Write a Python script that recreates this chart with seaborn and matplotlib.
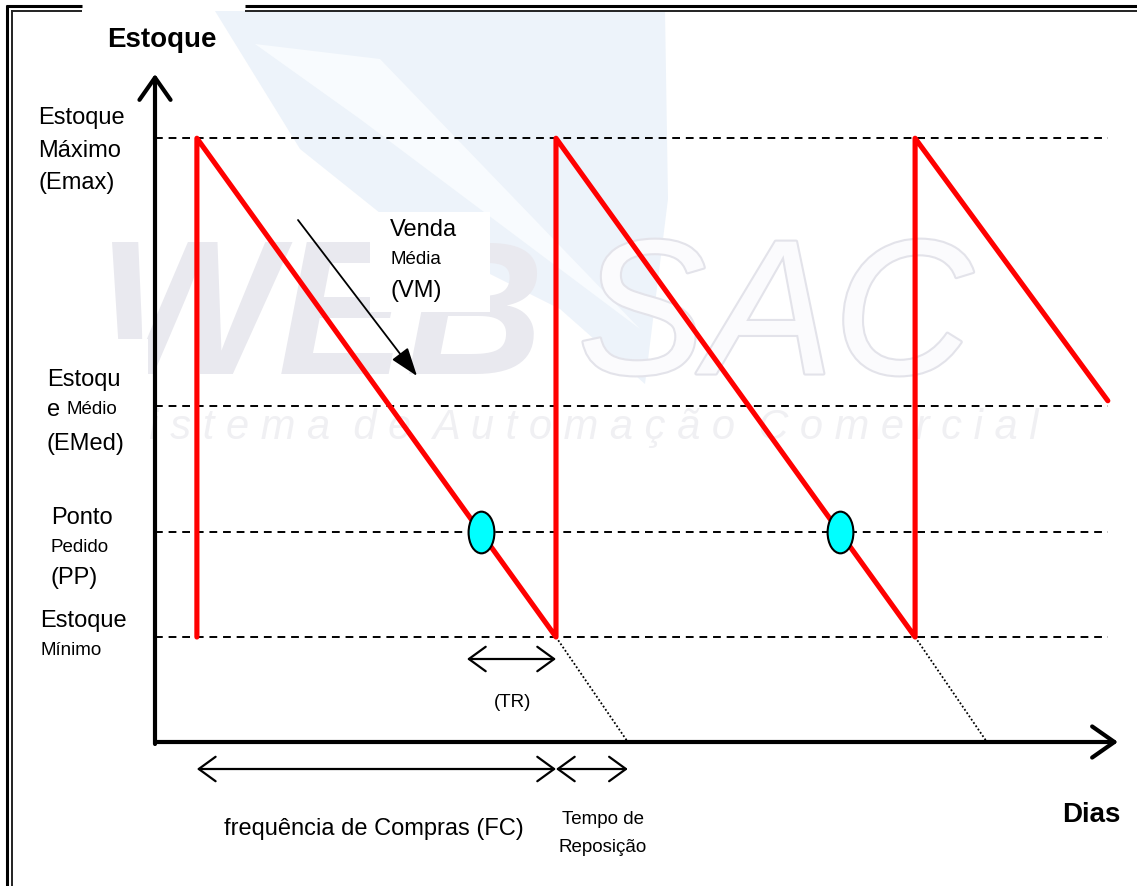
import numpy as np
import pandas as pd
import matplotlib
matplotlib.use("Agg")
import matplotlib.pyplot as plt
import seaborn as sns
from matplotlib.path import Path
from matplotlib.lines import Line2D
from matplotlib.patches import Rectangle, Polygon
import matplotlib.patheffects as pe

# ---------------- data ----------------
level_names = ["Emax", "EMed", "PP", "Emin"]
level_values = [115, 64, 40, 20]           # stock levels (units)
saw_days = [3.5, 3.5, 33.5, 33.5, 63.5, 63.5, 79.6]
saw_stock = [20, 115, 20, 115, 20, 115, 65]
reorder_days = [27.2, 57.2]                 # order point reached (PP)
restock_days = [33.5, 63.5]                 # stock at minimum, replenished
zero_days = [39.5, 69.5]                    # dotted projection reaches zero
first_restock = 3.5
level_end_day = 79.6

# ---------------- layout (pixel geometry of the canvas) ----------------
W, H = 1137, 887
X0, Y0 = 155, 743          # pixel of origin
PXD, PXS = 11.97, 5.25     # pixels per day / per stock unit

def dx(px):
    return (px - X0) / PXD

def dy(py):
    return (Y0 - py) / PXS

def fx(px, py):
    return px / W, 1 - py / H

sns.set_theme(style="white")
plt.rcParams['font.family'] = ['Liberation Sans', 'DejaVu Sans']

fig = plt.figure(figsize=(W / 100, H / 100), dpi=100)
fig.patch.set_facecolor("white")
ax = fig.add_axes([0, 0, 1, 1])
ax.set_xlim(dx(0), dx(W))
ax.set_ylim(dy(H), dy(0))
ax.axis("off")

# ---------------- faint watermark (background logo) ----------------
ax.add_patch(Polygon([(dx(215), dy(12)), (dx(665), dy(12)), (dx(668), dy(200)),
                      (dx(645), dy(385)), (dx(560), dy(310)), (dx(400), dy(230)),
                      (dx(300), dy(150))],
                     closed=True, facecolor="#edf3fa", edgecolor="none", zorder=0))
ax.add_patch(Polygon([(dx(255), dy(45)), (dx(380), dy(60)), (dx(640), dy(330)),
                      (dx(360), dy(120))],
                     closed=True, facecolor="#f8fbfe", edgecolor="none", zorder=0.1))
ax.text(*fx(98, 325), "WEB", transform=fig.transFigure, fontsize=138,
        fontweight="bold", fontstyle="italic", color="#e9e9ef",
        ha="left", va="center", zorder=0.2)
ax.text(*fx(578, 325), "SAC", transform=fig.transFigure, fontsize=138,
        fontstyle="italic", color="#fbfbfd", ha="left", va="center", zorder=0.2,
        path_effects=[pe.withStroke(linewidth=3, foreground="#e3e3ea")])
ax.text(*fx(110, 428), "S i s t e m a  d e  A u t o m a ç ã o  C o m e r c i a l",
        transform=fig.transFigure, fontsize=30, fontstyle="italic",
        color="#f0f0f3", ha="left", va="center", zorder=0.2)

# white boxes behind some labels
ax.add_patch(Rectangle((dx(370), dy(313)), 120 / PXD, 100 / PXS,
                       facecolor="white", edgecolor="none", zorder=0.5))
ax.add_patch(Rectangle((dx(15), dy(470)), 133 / PXD, 130 / PXS,
                       facecolor="white", edgecolor="none", zorder=0.5))

# ---------------- level dashed lines ----------------
for v in level_values:
    ax.plot([0, level_end_day], [v, v], color="black", lw=1.4,
            linestyle=(0, (4, 3)), zorder=2)

# ---------------- sawtooth ----------------
saw = pd.DataFrame({"dia": saw_days, "estoque": saw_stock})
sns.lineplot(data=saw, x="dia", y="estoque", estimator=None, sort=False,
             color="#ff0000", lw=3.7, ax=ax, zorder=3)

# dotted projections to zero
for r, z in zip(restock_days, zero_days):
    ax.plot([r, z], [level_values[-1], 0], color="black", lw=1.3,
            linestyle=(0, (1, 1.2)), zorder=2)

# order point ellipses
circ = Path.unit_circle()
ell_marker = Path(circ.vertices * np.array([0.62, 1.0]), circ.codes)
pts = pd.DataFrame({"dia": reorder_days, "estoque": [level_values[2]] * 2})
sns.scatterplot(data=pts, x="dia", y="estoque", marker=ell_marker, s=900,
                color="#00ffff", edgecolor="black", linewidth=1.5, ax=ax, zorder=4)

# ---------------- axes arrows ----------------
ax.annotate("", xy=(0, dy(75)), xytext=(0, dy(745)),
            arrowprops=dict(arrowstyle="->,head_length=0.4,head_width=0.28",
                            lw=3, color="black", mutation_scale=40,
                            shrinkA=0, shrinkB=0), zorder=5)
ax.annotate("", xy=(dx(1118), 0), xytext=(0, 0),
            arrowprops=dict(arrowstyle="->,head_length=0.4,head_width=0.28",
                            lw=3, color="black", mutation_scale=40,
                            shrinkA=0, shrinkB=0), zorder=5)

# ---------------- double arrows ----------------
dbl = dict(arrowstyle="<->,head_length=0.55,head_width=0.4", lw=1.6,
           color="black", mutation_scale=22, shrinkA=0, shrinkB=0)
ax.annotate("", xy=(restock_days[0], dy(660)), xytext=(dx(467), dy(660)),
            arrowprops=dbl, zorder=5)
ax.annotate("", xy=(restock_days[0], dy(770)), xytext=(first_restock, dy(770)),
            arrowprops=dbl, zorder=5)
ax.annotate("", xy=(zero_days[0], dy(770)), xytext=(restock_days[0], dy(770)),
            arrowprops=dbl, zorder=5)

# Venda media arrow
ax.annotate("", xy=(dx(417), dy(377)), xytext=(dx(298), dy(221)),
            arrowprops=dict(arrowstyle="-|>,head_length=0.8,head_width=0.28",
                            lw=1.3, color="black", mutation_scale=22,
                            shrinkA=0, shrinkB=0), zorder=5)

# ---------------- texts ----------------
BIG, SMALL = 17, 13.5
def t(px, py, s, size=BIG, ha="left", weight="normal"):
    fig.text(*fx(px, py), s, fontsize=size, ha=ha, va="center",
             fontweight=weight, color="black", zorder=6)

t(107, 40, "Estoque", size=20, weight="bold")
t(1121, 815, "Dias", size=20, ha="right", weight="bold")

t(38, 118, "Estoque")
t(38, 151, "Máximo")
t(38, 183, "(Emax)")

t(47, 380, "Estoqu")
t(47, 410, "e")
t(66, 410, "Médio", size=SMALL)
t(47, 444, "(EMed)")

t(51, 518, "Ponto")
t(51, 547, "Pedido", size=SMALL)
t(51, 578, "(PP)")

t(40, 621, "Estoque")
t(40, 651, "Mínimo", size=SMALL)

t(390, 230, "Venda")
t(390, 260, "Média", size=SMALL)
t(390, 291, "(VM)")

t(513, 703, "(TR)", size=SMALL, ha="center")
t(374, 829, "frequência de Compras (FC)", ha="center")
t(603, 820, "Tempo de", size=SMALL, ha="center")
t(603, 848, "Reposição", size=SMALL, ha="center")

# ---------------- double frame border ----------------
def fl(xs, ys, lw, color="black"):
    fig.add_artist(Line2D([x / W for x in xs], [1 - y / H for y in ys],
                          transform=fig.transFigure, lw=lw, color=color,
                          solid_capstyle="butt", zorder=10))

fl([7, 7], [6, H], 2.2)
fl([12, 12], [11, H], 1.4, "#222222")
fl([6, 82], [7, 7], 2.2)
fl([11, 82], [12, 12], 1.4, "#222222")
fl([245, W], [7, 7], 2.2)
fl([245, W], [12, 12], 1.4, "#222222")

fig.savefig("out.png", dpi=100, facecolor="white")
